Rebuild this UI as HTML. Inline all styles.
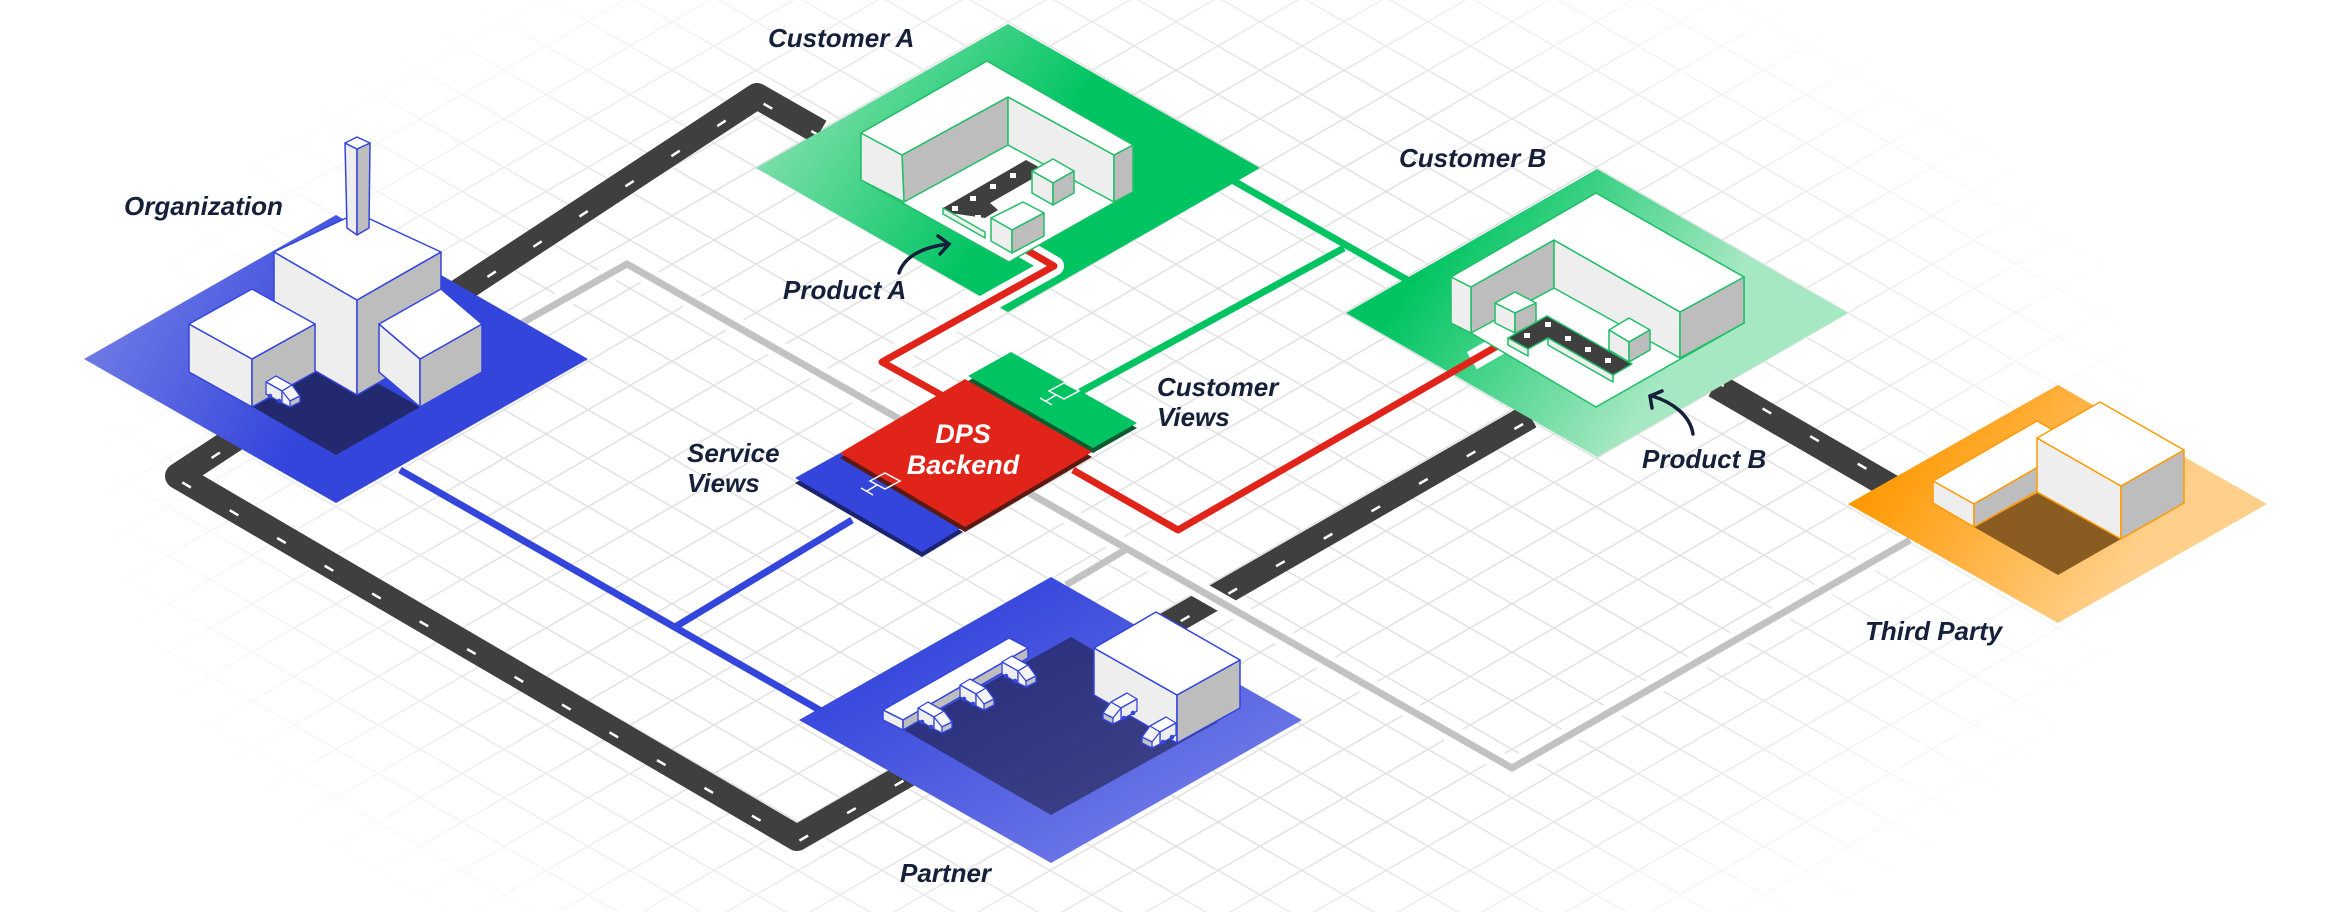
<!DOCTYPE html>
<html><head><meta charset="utf-8"><style>
html,body{margin:0;padding:0;background:#fff;width:2352px;height:912px;overflow:hidden}
svg{display:block}
.lbl{font-family:"Liberation Sans",sans-serif;font-style:italic;font-weight:bold;font-size:26px;fill:#16203a}
</style></head><body>
<svg width="2352" height="912" viewBox="0 0 2352 912" xmlns="http://www.w3.org/2000/svg">
<defs>
<pattern id="grid" patternUnits="userSpaceOnUse" x="1974" y="240" width="84" height="48.5">
<path d="M0 0 L84 48.5 M0 48.5 L84 0" stroke="#e2e2e2" stroke-width="1.6" fill="none"/>
</pattern>
<radialGradient id="fade" cx="1130" cy="470" r="1100" gradientUnits="userSpaceOnUse" gradientTransform="translate(1130 470) scale(1.0 0.58) translate(-1130 -470)">
<stop offset="0.6" stop-color="#fff"/><stop offset="0.95" stop-color="#000"/>
</radialGradient>
<mask id="m"><rect width="2352" height="912" fill="url(#fade)"/></mask>
<linearGradient id="gOrg" x1="0" y1="0" x2="1" y2="0.3"><stop offset="0" stop-color="#7f8ae8"/><stop offset="0.6" stop-color="#3445dc"/></linearGradient>
<linearGradient id="gPart" x1="0" y1="0" x2="1" y2="1"><stop offset="0.2" stop-color="#3445dc"/><stop offset="1" stop-color="#8088ea"/></linearGradient>
<linearGradient id="gA" x1="0" y1="0" x2="1" y2="0.4"><stop offset="0" stop-color="#a6e8c2"/><stop offset="0.65" stop-color="#00c462"/></linearGradient>
<linearGradient id="gB" x1="0" y1="0" x2="1" y2="0.4"><stop offset="0.25" stop-color="#00c462"/><stop offset="0.8" stop-color="#a6e8c2"/></linearGradient>
<linearGradient id="gTP" x1="0" y1="0" x2="1" y2="0.4"><stop offset="0.2" stop-color="#ff9a05"/><stop offset="0.85" stop-color="#ffd08c"/></linearGradient>
<linearGradient id="gSh" x1="0" y1="0" x2="1" y2="1"><stop offset="0" stop-color="#262c7c"/><stop offset="1" stop-color="#3f4488"/></linearGradient>
<g id="truck" stroke="#3445dc" stroke-width="1.3" stroke-linejoin="round">
<polygon points="0,6 10,0 26,9 16,15" fill="#fff"/>
<polygon points="0,6 16,15 16,27 0,18" fill="#eee"/>
<polygon points="16,15 26,9 34,20 34,26 24,31 16,27" fill="#f4f4f4"/>
<polyline points="16,15 24,25 34,20" fill="none"/>
<polygon points="24,25 34,20 34,26 24,31" fill="#c4c4c4"/>
<circle cx="4" cy="20" r="2.3" fill="#3445dc" stroke="none"/><circle cx="13" cy="25" r="2.3" fill="#3445dc" stroke="none"/>
</g>
</defs>

<rect width="2352" height="912" fill="#fff"/>
<rect width="2352" height="912" fill="url(#grid)" mask="url(#m)"/>

<!-- road -->
<g fill="none" stroke-linejoin="round" stroke-linecap="butt">
<polyline points="820,132 757,96 178,476 797,838 1530,416" stroke="#3f3f3f" stroke-width="26"/>
<polyline points="1715,385 1960,527" stroke="#3f3f3f" stroke-width="26"/>
<polyline points="820,132 757,96 178,476 797,838 1530,416" stroke="#fff" stroke-width="2.5" stroke-dasharray="10 45" transform="translate(0,4)"/>
<polyline points="1715,385 1960,527" stroke="#fff" stroke-width="2.5" stroke-dasharray="10 45" transform="translate(0,-4)"/>
</g>
<polyline points="522,323 627,264 1512,768 1910,540" fill="none" stroke="#fff" stroke-width="18" stroke-linejoin="round"/>
<polyline points="522,323 627,264 1512,768 1910,540" fill="none" stroke="#c2c2c2" stroke-width="7" stroke-linejoin="miter"/>
<line x1="1066" y1="585" x2="1125" y2="550" stroke="#c2c2c2" stroke-width="7"/>

<!-- blue lines -->
<line x1="400" y1="470" x2="830" y2="716" stroke="#3445dc" stroke-width="7"/>
<line x1="675" y1="627" x2="852" y2="520" stroke="#3445dc" stroke-width="7"/>
<!-- green lines -->
<polyline points="1225,176 1409,281" fill="none" stroke="#00c462" stroke-width="7"/>
<polyline points="1080,392 1344,248" fill="none" stroke="#00c462" stroke-width="7"/>

<!-- plates -->
<polygon points="84,359 336,215 588,359 336,503" fill="url(#gOrg)"/>
<polygon points="253,407 336,360 420,407 336,455" fill="#23296e"/>
<polygon points="799,720 1051,577 1302,720 1051,863" fill="url(#gPart)"/>
<polygon points="904,730 1071,637 1218,722 1051,815" fill="url(#gSh)"/>
<polygon points="756,168 1008,24 1260,168 1008,312" fill="url(#gA)"/>
<polygon points="1346,313 1597,169 1848,313 1597,457" fill="url(#gB)"/>
<polygon points="1848,504 2058,385 2267,504 2058,623" fill="url(#gTP)"/>
<polygon points="1974,527 2037,493 2121,539 2058,575" fill="#8a5c22"/>

<!-- red lines with white halo -->
<g fill="none" stroke-linejoin="round">
<polyline points="1023,248 1054,266 882,362 943,396" stroke="#fff" stroke-width="20"/>
<polyline points="1073,470 1178,530 1513,337" stroke="#fff" stroke-width="20" stroke-dasharray="0 460 200"/>
<polyline points="1023,248 1054,266 882,362 943,396" stroke="#e0241a" stroke-width="7"/>
<polyline points="1073,470 1178,530 1513,337" stroke="#e0241a" stroke-width="7"/>
</g>

<!-- Organization building -->
<g stroke="#3445dc" stroke-width="1.5" stroke-linejoin="round">
<polygon points="274,252 357,300 357,395 274,347" fill="#eee"/>
<polygon points="357,300 441,252 441,347 357,395" fill="#bdbdbd"/>
<polygon points="357,213 441,252 357,300 274,252" fill="#fff"/>
<polygon points="345,143 357,149 357,235 347,228" fill="#eee"/>
<polygon points="357,149 370,143 369,228 357,235" fill="#bdbdbd"/>
<polygon points="345,143 357,137 370,143 357,149" fill="#fff"/>
<polygon points="189,324 252,359 252,407 189,372" fill="#eee"/>
<polygon points="252,359 315,324 315,372 252,407" fill="#bdbdbd"/>
<polygon points="189,324 252,289 315,324 252,359" fill="#fff"/>
<polygon points="379,324 420,359 420,407 379,372" fill="#eee"/>
<polygon points="420,359 482,324 482,372 420,407" fill="#bdbdbd"/>
<polygon points="379,324 441,289 482,324 420,359" fill="#fff"/>
</g>
<use href="#truck" x="266" y="376"/>

<!-- Customer A building -->
<g stroke="#1fbf66" stroke-width="1.5" stroke-linejoin="round">
<polygon points="861,133 987,61 1133,145 1133,192 1009,262 861,180" fill="#fff"/>
<polygon points="902,155 1008,97 1008,145 904,202" fill="#bdbdbd"/>
<polygon points="861,133 902,155 904,202 861,180" fill="#eee"/>
<polygon points="1008,97 1114,155 1114,202 1008,145" fill="#eee"/>
<polygon points="1114,155 1133,145 1133,192 1114,202" fill="#bdbdbd"/>
<polygon points="861,133 987,61 1133,145 1114,155 1008,97 902,155" fill="#fff"/>
<polygon points="943,208 1026,160 1046,171 990,203 998,210 985,218 943,212" fill="#3f3f3f" stroke="none"/>
<polygon points="943,208 985,232 985,238 943,214" fill="#eee"/>
<polygon points="1032,171 1053,159 1074,171 1053,183" fill="#fff"/>
<polygon points="1032,171 1053,183 1053,205 1032,193" fill="#eee"/>
<polygon points="1053,183 1074,171 1074,193 1053,205" fill="#bdbdbd"/>
<polygon points="991,218 1023,202 1044,213 1012,230" fill="#fff"/>
<polygon points="991,218 1012,230 1012,253 991,241" fill="#eee"/>
<polygon points="1012,230 1044,213 1044,236 1012,253" fill="#bdbdbd"/>
</g>
<g fill="#fff"><rect x="952" y="206" width="6" height="5"/><rect x="970" y="196" width="6" height="5"/><rect x="990" y="184" width="6" height="5"/><rect x="1010" y="173" width="6" height="5"/><rect x="975" y="215" width="6" height="5"/></g>

<!-- Customer B building -->
<g stroke="#1fbf66" stroke-width="1.5" stroke-linejoin="round">
<polygon points="1451,277 1596,193 1744,277 1744,323 1596,407 1471,333 1451,323" fill="#fff"/>
<polygon points="1471,287 1554,240 1554,288 1471,333" fill="#bdbdbd"/>
<polygon points="1451,277 1471,287 1471,333 1451,323" fill="#eee"/>
<polygon points="1554,240 1680,312 1680,358 1554,288" fill="#eee"/>
<polygon points="1680,312 1744,277 1744,323 1680,358" fill="#bdbdbd"/>
<polygon points="1451,277 1596,193 1744,277 1680,312 1554,240 1471,287" fill="#fff"/>
<polygon points="1495,303 1515,292 1536,303 1515,313" fill="#fff"/>
<polygon points="1495,303 1515,313 1515,333 1495,323" fill="#eee"/>
<polygon points="1515,313 1536,303 1536,323 1515,333" fill="#bdbdbd"/>
<polygon points="1508,338 1547,316 1632,364 1613,375 1548,338 1528,349" fill="#3f3f3f"/>
<polygon points="1508,338 1528,349 1528,356 1508,345" fill="#eee"/>
<polygon points="1548,345 1613,382 1613,375 1548,338" fill="#eee"/>
<polygon points="1609,330 1629,318 1650,330 1629,342" fill="#fff"/>
<polygon points="1609,330 1629,342 1629,362 1609,350" fill="#eee"/>
<polygon points="1629,342 1650,330 1650,350 1629,362" fill="#bdbdbd"/>
</g>
<g fill="#fff"><rect x="1524" y="333" width="6" height="5"/><rect x="1545" y="322" width="6" height="5"/><rect x="1565" y="336" width="6" height="5"/><rect x="1585" y="347" width="6" height="5"/><rect x="1605" y="358" width="6" height="5"/></g>

<!-- Partner building -->
<g stroke="#3445dc" stroke-width="1.5" stroke-linejoin="round">
<polygon points="883,710 1009,638 1028,648 903,720" fill="#fff"/>
<polygon points="883,710 903,720 903,730 883,720" fill="#eee"/>
<polygon points="903,720 1028,648 1028,658 903,730" fill="#bdbdbd"/>
<polygon points="1094,648 1177,695 1177,743 1094,695" fill="#eee"/>
<polygon points="1177,695 1240,660 1240,708 1177,743" fill="#bdbdbd"/>
<polygon points="1094,648 1156,612 1240,660 1177,695" fill="#fff"/>
</g>
<use href="#truck" x="918" y="702"/><use href="#truck" x="960" y="679"/><use href="#truck" x="1002" y="656"/>
<use href="#truck" x="1077" y="693" transform="translate(2214 0) scale(-1 1)"/>
<use href="#truck" x="1116" y="717" transform="translate(2292 0) scale(-1 1)"/>

<!-- Third party buildings -->
<g stroke="#ff9a05" stroke-width="1.5" stroke-linejoin="round">
<polygon points="1933,481 2037,421 2078,444 1974,504" fill="#fff"/>
<polygon points="1933,481 1974,504 1974,527 1933,503" fill="#eee"/>
<polygon points="1974,504 2078,444 2078,468 1974,527" fill="#bdbdbd"/>
<polygon points="2037,438 2121,486 2121,539 2037,492" fill="#eee"/>
<polygon points="2121,486 2184,450 2184,503 2121,539" fill="#bdbdbd"/>
<polygon points="2037,438 2100,402 2184,450 2121,486" fill="#fff"/>
</g>

<!-- DPS -->
<polygon points="968,381 1011,357 1137,428 1093,453" fill="#0f5a2e"/>
<polygon points="968,376 1011,352 1137,423 1093,448" fill="#00c462"/>
<polygon points="795,483 840,458 963,532 922,557" fill="#1c2470"/>
<polygon points="795,478 840,453 963,527 922,552" fill="#3445dc"/>
<polygon points="840,458 965,384 1092,457 965,532" fill="#5a1a14"/>
<polygon points="840,453 965,379 1092,452 965,527" fill="#e0241a"/>
<g fill="none" stroke="#fff" stroke-width="1.5">
<polygon points="1049,391 1064,383 1079,391 1064,399"/><path d="M1056 395 L1046 401 M1040 398 L1052 405"/>
<polygon points="870,481 885,473 900,481 885,489"/><path d="M877 485 L867 491 M861 488 L873 495"/>
</g>
<text x="963" y="443" text-anchor="middle" class="lbl" style="fill:#fff;font-size:27px">DPS</text>
<text x="963" y="474" text-anchor="middle" class="lbl" style="fill:#fff;font-size:27px">Backend</text>

<!-- arrows -->
<g fill="none" stroke="#16203a" stroke-width="3.5" stroke-linecap="round">
<path d="M899 273 C905 255 925 247 948 244"/><path d="M938 236 L949 244 L940 254"/>
<path d="M1693 434 C1690 415 1672 402 1652 396"/><path d="M1652 408 L1650 396 L1662 391"/>
</g>

<!-- labels -->
<text x="768" y="47" class="lbl">Customer A</text>
<text x="124" y="215" class="lbl">Organization</text>
<text x="783" y="299" class="lbl">Product A</text>
<text x="1399" y="167" class="lbl">Customer B</text>
<text x="1157" y="396" class="lbl">Customer</text>
<text x="1157" y="426" class="lbl">Views</text>
<text x="687" y="462" class="lbl">Service</text>
<text x="687" y="492" class="lbl">Views</text>
<text x="1642" y="468" class="lbl">Product B</text>
<text x="900" y="882" class="lbl">Partner</text>
<text x="1865" y="640" class="lbl">Third Party</text>
</svg>
</body></html>
